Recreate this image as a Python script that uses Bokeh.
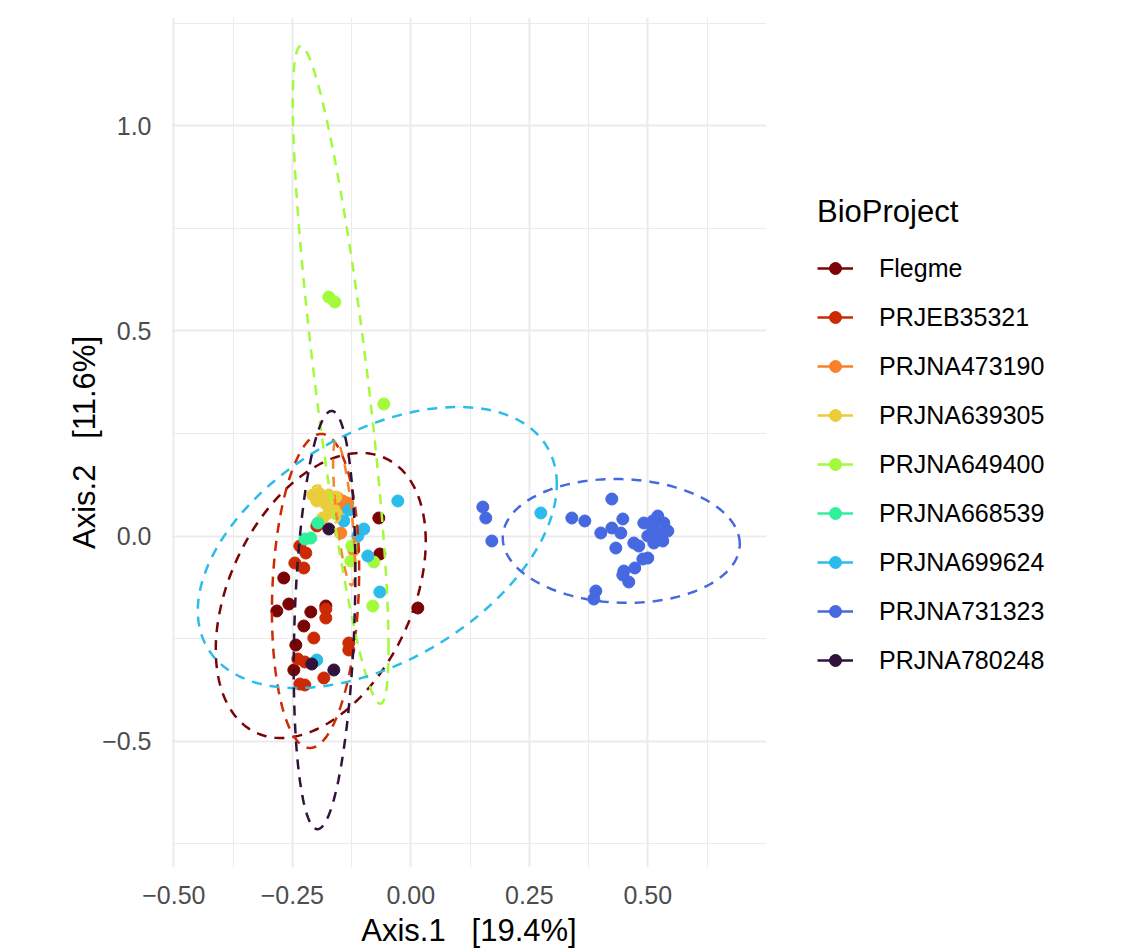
import numpy as np
from bokeh.plotting import figure
from bokeh.models import Range1d, FixedTicker, Legend, LegendItem
from bokeh.embed import file_html
from bokeh.resources import INLINE

groups = ["Flegme", "PRJEB35321", "PRJNA473190", "PRJNA639305", "PRJNA649400",
          "PRJNA668539", "PRJNA699624", "PRJNA731323", "PRJNA780248"]
colors = ["#7A0403", "#CB2A04", "#F8812A", "#EACD3A", "#A3FA3C",
          "#31F09C", "#2BBCEC", "#4669E1", "#30123B"]

flegme_x = [-0.0675, -0.0654, -0.268, -0.2827, -0.2574, -0.211, -0.1793, -0.2257, -0.2426, -0.2468, 0.0148]
flegme_y = [0.0439, -0.0439, -0.1024, -0.1829, -0.1659, -0.1854, -0.1707, -0.2195, -0.2659, -0.3268, -0.1756]

prjeb35321_x = [-0.2342, -0.2215, -0.2447, -0.2257, -0.1983, -0.1793, -0.1793, -0.2046, -0.1308, -0.1308,
                -0.2384, -0.2236, -0.1835, -0.2342, -0.2236]
prjeb35321_y = [-0.0244, -0.0415, -0.0659, -0.078, 0.0244, -0.178, -0.2, -0.2488, -0.261, -0.278,
                -0.3, -0.3073, -0.3463, -0.361, -0.3634]

prjna473190_x = [-0.154, -0.1435, -0.1329, -0.1456, -0.1477, -0.1203]
prjna473190_y = [0.0927, 0.0854, 0.0805, 0.0683, 0.0073, -0.0341]

prjna639305_x = [-0.2068, -0.1941, -0.1857, -0.173, -0.1983, -0.1793, -0.1646, -0.1561, -0.173, -0.1857, -0.1582]
prjna639305_y = [0.1, 0.1049, 0.0927, 0.1, 0.0854, 0.078, 0.0659, 0.0537, 0.0561, 0.0439, 0.0951]

prjna649400_x = [-0.173, -0.1603, -0.057, -0.1245, -0.1266, -0.0781, -0.0802]
prjna649400_y = [0.5829, 0.5707, 0.322, -0.0244, -0.061, -0.0634, -0.1707]

prjna668539_x = [-0.1962, -0.2236, -0.211]
prjna668539_y = [0.0317, -0.0073, -0.0049]

prjna699624_x = [-0.0274, 0.2743, -0.0992, -0.1118, -0.0907, -0.0654, -0.1414, -0.1308, -0.1983]
prjna699624_y = [0.0854, 0.0561, 0.0171, 0.0, -0.0488, -0.1366, 0.0366, 0.0634, -0.3024]

prjna731323_x = [0.1519, 0.1582, 0.1709, 0.4241, 0.3397, 0.3671, 0.4008, 0.4241, 0.443, 0.4473,
                 0.4325, 0.4705, 0.481, 0.4916, 0.5, 0.4895, 0.4726, 0.4494, 0.4473, 0.4599,
                 0.3903, 0.3861, 0.5211, 0.5338, 0.5422, 0.5316, 0.5127, 0.5105, 0.5211, 0.5,
                 0.5316, 0.5105]
prjna731323_y = [0.0707, 0.0439, -0.0122, 0.0902, 0.0439, 0.0366, 0.0073, 0.0195, 0.0073, 0.0415,
                 -0.0293, -0.0171, -0.0244, 0.0317, -0.0537, -0.0561, -0.078, -0.0854, -0.0951, -0.1122,
                 -0.1341, -0.1537, 0.0488, 0.0317, 0.0122, -0.0122, -0.0171, 0.0195, 0.0049, 0.0,
                 0.0073, 0.0366]

prjna780248_x = [-0.173, -0.2089, -0.1624]
prjna780248_y = [0.0171, -0.3122, -0.3268]

points_x = [flegme_x, prjeb35321_x, prjna473190_x, prjna639305_x, prjna649400_x,
            prjna668539_x, prjna699624_x, prjna731323_x, prjna780248_x]
points_y = [flegme_y, prjeb35321_y, prjna473190_y, prjna639305_y, prjna649400_y,
            prjna668539_y, prjna699624_y, prjna731323_y, prjna780248_y]

# 95% ellipse parameters per group: centre, half extents, correlation (None = no ellipse)
ell_cx = [-0.190, -0.201, -0.141, -0.179, -0.148, None, -0.0707, 0.444, -0.182]
ell_cy = [-0.145, -0.134, 0.056, 0.078, 0.393, None, -0.028, -0.012, -0.205]
ell_sx = [0.2215, 0.092, 0.023, 0.030, 0.101, None, 0.3787, 0.25, 0.065]
ell_sy = [0.3476, 0.383, 0.176, 0.045, 0.802, None, 0.3427, 0.151, 0.51]
ell_r = [0.38, 0.13, -0.7, -0.6, -0.83, None, 0.45, -0.05, 0.23]

x_ticks = [-0.5, -0.25, 0, 0.25, 0.5]
x_tick_labels = ["\u22120.50", "\u22120.25", "0.00", "0.25", "0.50"]
y_ticks = [-0.5, 0, 0.5, 1]
y_tick_labels = ["\u22120.5", "0.0", "0.5", "1.0"]

x_title = "Axis.1 \u00a0 [19.4%]"
y_title = "Axis.2 \u00a0 [11.6%]"

FONT = "Liberation Sans"

p = figure(x_range=Range1d(-0.5049, 0.7504), y_range=Range1d(-0.8085, 1.2646),
           frame_width=595, frame_height=850,
           min_border_left=171, min_border_top=17, min_border_right=362, min_border_bottom=70,
           output_backend="svg", toolbar_location=None)
p.outline_line_color = None
p.background_fill_color = "white"
p.border_fill_color = "white"

p.xaxis.ticker = FixedTicker(ticks=x_ticks, minor_ticks=[-0.375, -0.125, 0.125, 0.375, 0.625])
p.yaxis.ticker = FixedTicker(ticks=y_ticks, minor_ticks=[-0.75, -0.25, 0.25, 0.75, 1.25])
p.xaxis.major_label_overrides = dict(zip(x_ticks, x_tick_labels))
p.yaxis.major_label_overrides = dict(zip(y_ticks, y_tick_labels))

for ax in (p.xaxis, p.yaxis):
    ax.axis_line_color = None
    ax.major_tick_line_color = None
    ax.minor_tick_line_color = None
    ax.major_label_text_font = FONT
    ax.major_label_text_font_size = "25px"
    ax.major_label_text_color = "#4D4D4D"
    ax.axis_label_text_font = FONT
    ax.axis_label_text_font_size = "31px"
    ax.axis_label_text_font_style = "normal"
    ax.axis_label_text_color = "black"
p.xaxis.axis_label = x_title
p.yaxis.axis_label = y_title
p.xaxis.major_label_standoff = 12
p.yaxis.major_label_standoff = 14
p.xaxis.axis_label_standoff = 6
p.yaxis.axis_label_standoff = -3

for g in (p.xgrid, p.ygrid):
    g.grid_line_color = "#EBEBEB"
    g.grid_line_width = 2
    g.minor_grid_line_color = "#EBEBEB"
    g.minor_grid_line_width = 1

scatters = []
for i in range(len(groups)):
    r = p.scatter(points_x[i], points_y[i], size=12, fill_color=colors[i],
                  line_color=colors[i], line_width=1)
    scatters.append(r)

t = np.linspace(0, 2 * np.pi, 240)
for i in range(len(groups)):
    if ell_cx[i] is None:
        continue
    r = ell_r[i]
    ex = ell_cx[i] + ell_sx[i] * np.cos(t)
    ey = ell_cy[i] + ell_sy[i] * (r * np.cos(t) + np.sqrt(1 - r * r) * np.sin(t))
    p.line(ex, ey, line_color=colors[i], line_width=2.5, line_dash="10 8")

items = []
for i, g in enumerate(groups):
    key_line = p.line([np.nan], [np.nan], line_color=colors[i], line_width=2.5)
    items.append(LegendItem(label=g, renderers=[key_line, scatters[i]]))

legend = Legend(items=items, location=(51, 192), title="BioProject",
                title_text_font=FONT, title_text_font_size="31px", title_text_font_style="normal",
                title_text_color="black", title_standoff=23,
                label_text_font=FONT, label_text_font_size="25px", label_text_color="black",
                glyph_width=36, glyph_height=30, label_height=30, label_standoff=26,
                spacing=19, padding=10, margin=0,
                border_line_color=None, background_fill_color=None)
p.add_layout(legend, "right")

open("out.html", "w").write(file_html(p, INLINE))
